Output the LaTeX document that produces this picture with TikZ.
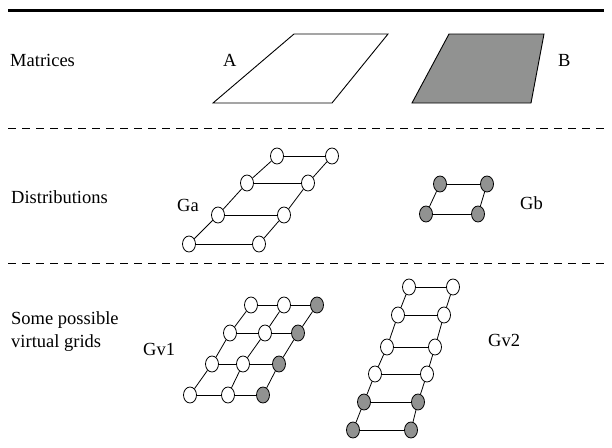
\documentclass[tikz,border=0pt]{standalone}
\usepackage{fontspec}
\setmainfont{Liberation Serif}
\usepackage{xcolor}
\usetikzlibrary{shapes.geometric}
\definecolor{fillgray}{RGB}{145,146,145}

\begin{document}
\begin{tikzpicture}[x=1pt,y=-1pt,
  txt/.style={anchor=base west,inner sep=0pt,font=\fontsize{18.5}{23}\selectfont},
  wnode/.style={ellipse,draw,line width=0.8pt,fill=white,minimum width=13pt,minimum height=16pt,inner sep=0pt},
  gnode/.style={wnode,fill=fillgray},
  edge/.style={line width=0.8pt},
  sep/.style={line width=0.8pt,dash pattern=on 8pt off 6pt}]
  \useasboundingbox (0,0) rectangle (612,447);

  % Rules
  \coordinate (top0) at (8,10);
  \coordinate (top1) at (604,10);
  \coordinate (sepa0) at (8,128);
  \coordinate (sepa1) at (604,128);
  \coordinate (sepb0) at (8,263);
  \coordinate (sepb1) at (604,263);
  \draw[line width=3pt] (top0) -- (top1);
  \draw[sep] (sepa0) -- (sepa1);
  \draw[sep] (sepb0) -- (sepb1);

  % Row labels
  \node[txt] (matrices) at (10,66) {Matrices};
  \node[txt] (distrib) at (11,203) {Distributions};
  \node[txt,anchor=west,align=left] (virtual) at (11,332) {Some possible\\virtual grids};

  % Matrices
  \draw[line width=0.9pt] (213,103) -- (332,103) -- (388,34) -- (294,34) -- cycle;
  \draw[line width=0.9pt,fill=fillgray] (412,103) -- (531,103) -- (544,34) -- (449,34) -- cycle;
  \node[txt] (A) at (223,66) {A};
  \node[txt] (B) at (558,66) {B};

  % Distribution Ga
  \node[txt] (Ga) at (177,211) {Ga};
  \node[wnode] (a11) at (277,156) {};
  \node[wnode] (a12) at (332,156) {};
  \node[wnode] (a21) at (247,183) {};
  \node[wnode] (a22) at (308,183) {};
  \node[wnode] (a31) at (218,215) {};
  \node[wnode] (a32) at (284,215) {};
  \node[wnode] (a41) at (189,244) {};
  \node[wnode] (a42) at (259,244) {};

  \draw[edge] (a11) -- (a12);
  \draw[edge] (a21) -- (a22);
  \draw[edge] (a31) -- (a32);
  \draw[edge] (a41) -- (a42);
  \draw[edge] (a41) -- (a31); % left side
  \draw[edge] (a31) -- (a21);
  \draw[edge] (a21) -- (a11);
  \draw[edge] (a42) -- (a32); % right side
  \draw[edge] (a32) -- (a22);
  \draw[edge] (a22) -- (a12);

  % Distribution Gb
  \node[txt] (Gb) at (520,209) {Gb};
  \node[gnode] (b11) at (440,184) {};
  \node[gnode] (b12) at (487,184) {};
  \node[gnode] (b21) at (426,214) {};
  \node[gnode] (b22) at (478,214) {};

  \draw[edge] (b11) -- (b12);
  \draw[edge] (b21) -- (b22);
  \draw[edge] (b21) -- (b11);
  \draw[edge] (b22) -- (b12);

  % Virtual grid Gv1
  \node[txt] (Gv1) at (143,355) {Gv1};
  \node[wnode] (u11) at (251,305) {};
  \node[wnode] (u12) at (284,305) {};
  \node[gnode] (u13) at (317,305) {};
  \node[wnode] (u21) at (230,333) {};
  \node[wnode] (u22) at (265,333) {};
  \node[gnode] (u23) at (298,333) {};
  \node[wnode] (u31) at (212,364) {};
  \node[wnode] (u32) at (243,364) {};
  \node[gnode] (u33) at (279,364) {};
  \node[wnode] (u41) at (190,395) {};
  \node[wnode] (u42) at (228,395) {};
  \node[gnode] (u43) at (263,395) {};

  \draw[edge] (u11) -- (u12) -- (u13); % rows
  \draw[edge] (u21) -- (u22) -- (u23);
  \draw[edge] (u31) -- (u32) -- (u33);
  \draw[edge] (u41) -- (u42) -- (u43);
  \draw[edge] (u41) -- (u31) -- (u21) -- (u11); % columns
  \draw[edge] (u42) -- (u32) -- (u22) -- (u12);
  \draw[edge] (u43) -- (u33) -- (u23) -- (u13);

  % Virtual grid Gv2
  \node[txt] (Gv2) at (488,346) {Gv2};
  \node[wnode] (w11) at (409,287) {};
  \node[wnode] (w12) at (453,287) {};
  \node[wnode] (w21) at (398,315) {};
  \node[wnode] (w22) at (444,315) {};
  \node[wnode] (w31) at (387,347) {};
  \node[wnode] (w32) at (435,347) {};
  \node[wnode] (w41) at (375,374) {};
  \node[wnode] (w42) at (427,374) {};
  \node[gnode] (w51) at (364,402) {};
  \node[gnode] (w52) at (418,402) {};
  \node[gnode] (w61) at (353,430) {};
  \node[gnode] (w62) at (411,430) {};

  \draw[edge] (w11) -- (w12); % rows
  \draw[edge] (w21) -- (w22);
  \draw[edge] (w31) -- (w32);
  \draw[edge] (w41) -- (w42);
  \draw[edge] (w51) -- (w52);
  \draw[edge] (w61) -- (w62);
  \draw[edge] (w61) -- (w51) -- (w41) -- (w31) -- (w21) -- (w11); % columns
  \draw[edge] (w62) -- (w52) -- (w42) -- (w32) -- (w22) -- (w12);
\end{tikzpicture}
\end{document}
